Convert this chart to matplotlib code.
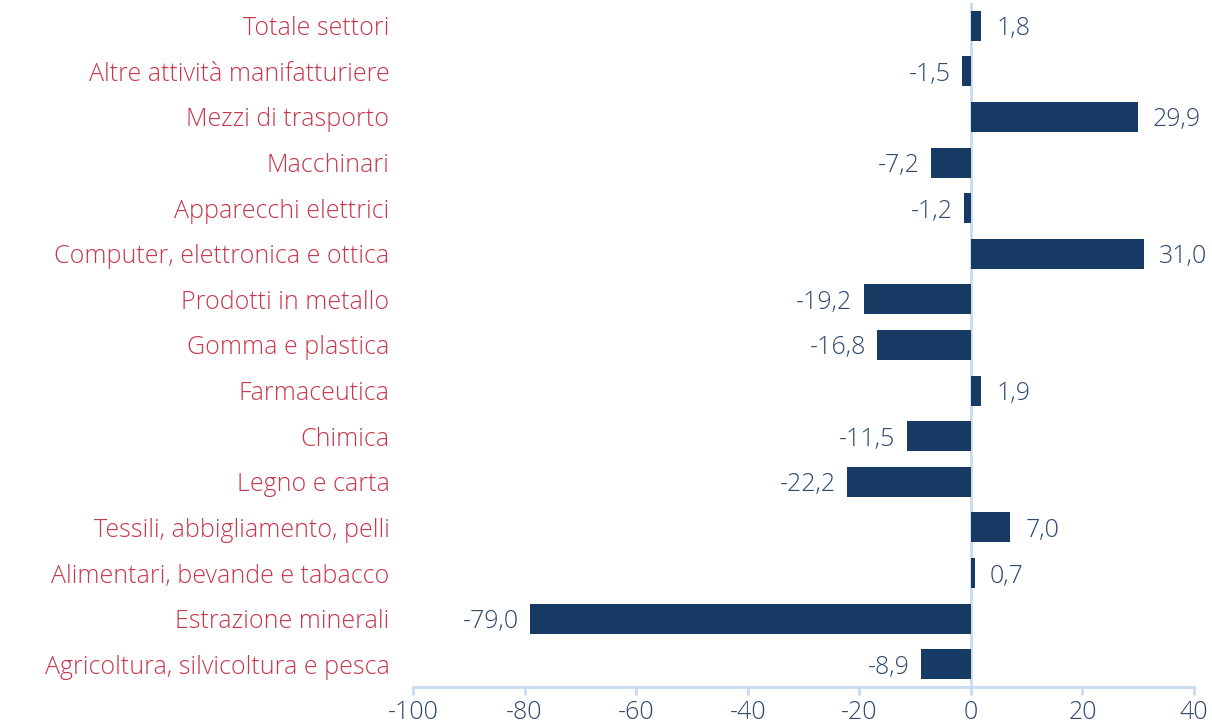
import matplotlib
matplotlib.use("Agg")
import matplotlib.pyplot as plt

categories = [
    "Totale settori",
    "Altre attività manifatturiere",
    "Mezzi di trasporto",
    "Macchinari",
    "Apparecchi elettrici",
    "Computer, elettronica e ottica",
    "Prodotti in metallo",
    "Gomma e plastica",
    "Farmaceutica",
    "Chimica",
    "Legno e carta",
    "Tessili, abbigliamento, pelli",
    "Alimentari, bevande e tabacco",
    "Estrazione minerali",
    "Agricoltura, silvicoltura e pesca",
]
values = [1.8, -1.5, 29.9, -7.2, -1.2, 31.0, -19.2, -16.8, 1.9, -11.5, -22.2, 7.0, 0.7, -79.0, -8.9]
xticks = [-100, -80, -60, -40, -20, 0, 20, 40]

bar_color = "#173A64"
label_color = "#C8374B"
value_color = "#2F4A6E"
axis_color = "#C9DBF0"

plt.rcParams['font.family'] = ['Open Sans', 'DejaVu Sans']
FW = "light"

fig = plt.figure(figsize=(12.12, 7.28), dpi=100)
ax = fig.add_axes([0.3408, 0.0563, 0.6443, 0.9396])

y = list(range(len(categories)))[::-1]
ax.barh(y, values, height=0.66, color=bar_color, zorder=2)
ax.set_xlim(-100, 40)
ax.set_ylim(-0.5, len(categories) - 0.5)
ax.axvline(0, color=axis_color, lw=2, zorder=1)

for yi, v in zip(y, values):
    txt = f"{v:.1f}".replace(".", ",")
    if v >= 0:
        ax.annotate(txt, (v, yi), xytext=(11, 0), textcoords="offset points",
                    ha="left", va="center_baseline", fontsize=18, color=value_color, fontweight=FW)
    else:
        ax.annotate(txt, (v, yi), xytext=(-8, 0), textcoords="offset points",
                    ha="right", va="center_baseline", fontsize=18, color=value_color, fontweight=FW)

ax.set_yticks(y)
ax.set_yticklabels(categories, fontsize=18, color=label_color, fontweight=FW)
ax.tick_params(axis="y", length=0, pad=17)

ax.set_xticks(xticks)
ax.set_xticklabels([str(t) for t in xticks], fontsize=18, color=value_color, fontweight=FW)
ax.tick_params(axis="x", length=6, width=2, color=axis_color, pad=3)

for s in ["top", "right", "left"]:
    ax.spines[s].set_visible(False)
ax.spines["bottom"].set_color(axis_color)
ax.spines["bottom"].set_linewidth(2)

fig.savefig("out.png", dpi=100)
